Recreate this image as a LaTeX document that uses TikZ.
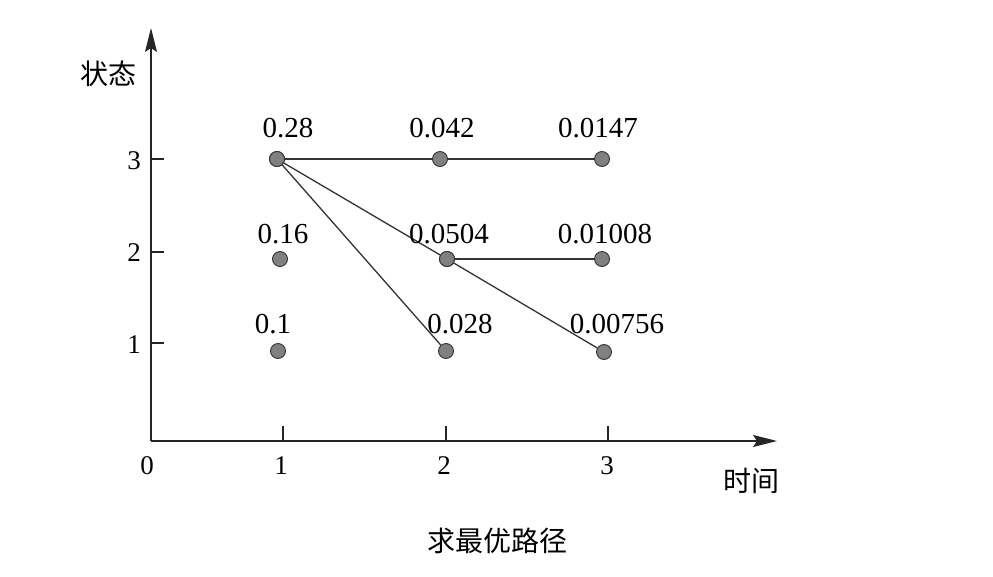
\documentclass[tikz,border=0pt]{standalone}
\usepackage{fontspec}
\setmainfont{Liberation Serif}
\newfontfamily\cjk{Noto Sans CJK SC}
\usetikzlibrary{arrows.meta}
\tikzset{
  dot/.style={circle,draw=black!80,fill=black!50,line width=0.9pt,minimum size=15pt,inner sep=0pt},
  val/.style={font=\fontsize{29}{32}\selectfont,inner sep=0pt},
  lab/.style={font=\fontsize{27}{30}\selectfont,inner sep=0pt},
  cn/.style={font=\cjk\fontsize{28}{32}\selectfont,inner sep=0pt},
  axis/.style={line width=1.4pt,black!85,-{Stealth[length=24pt,width=12pt,inset=4pt]}},
  edge/.style={line width=1.3pt,black!80},
  tick/.style={line width=1.1pt,black!85}
}
\begin{document}
\begin{tikzpicture}[x=1pt,y=-1pt]
\useasboundingbox (0,0) rectangle (993,576);
% axes
\coordinate (O) at (151,441);
\coordinate (Yend) at (151,28);
\coordinate (Xend) at (777,441);
\draw[axis] (O) -- (Yend);
\draw[axis] (O) -- (Xend);
% y ticks
\coordinate (y3) at (151,159);
\coordinate (y2) at (151,252);
\coordinate (y1) at (151,343);
\foreach \c in {y3,y2,y1} \draw[tick] (\c) -- ++(13,0);
\node[lab,anchor=east] (ly3) at (141,161) {3};
\node[lab,anchor=east] (ly2) at (141,253) {2};
\node[lab,anchor=east] (ly1) at (141,345) {1};
% x ticks
\coordinate (x1) at (283,441);
\coordinate (x2) at (446,441);
\coordinate (x3) at (608,441);
\foreach \c in {x1,x2,x3} \draw[tick] (\c) -- ++(0,-15);
\node[lab] (lx0) at (147,466) {0};
\node[lab] (lx1) at (281,466) {1};
\node[lab] (lx2) at (444,466) {2};
\node[lab] (lx3) at (607,466) {3};
% axis titles
\node[cn] (ytitle) at (108,74) {状态};
\node[cn] (xtitle) at (751,481) {时间};
\node[cn] (caption) at (497,541) {求最优路径};
% points
\node[dot] (a3) at (277,159) {};
\node[dot] (b3) at (440,159) {};
\node[dot] (c3) at (602,159) {};
\node[dot] (a2) at (280,259) {};
\node[dot] (b2) at (447,259) {};
\node[dot] (c2) at (602,259) {};
\node[dot] (a1) at (278,351) {};
\node[dot] (b1) at (446,351) {};
\node[dot] (c1) at (604,352) {};
% edges
\draw[edge] (a3) -- (b3) -- (c3);
\draw[edge] (a3.center) -- (b2);
\draw[edge] (a3.center) -- (b1);
\draw[edge] (b2) -- (c2);
\draw[edge] (b2.center) -- (c1);
\foreach \n in {a3,b2} \node[dot] at (\n) {};
% values
\node[val] (v1) at (288,128) {0.28};
\node[val] (v2) at (442,128) {0.042};
\node[val] (v3) at (598,128) {0.0147};
\node[val] (v4) at (283,234) {0.16};
\node[val] (v5) at (449,234) {0.0504};
\node[val] (v6) at (605,234) {0.01008};
\node[val] (v7) at (273,324) {0.1};
\node[val] (v8) at (460,324) {0.028};
\node[val] (v9) at (617,324) {0.00756};
\end{tikzpicture}
\end{document}
